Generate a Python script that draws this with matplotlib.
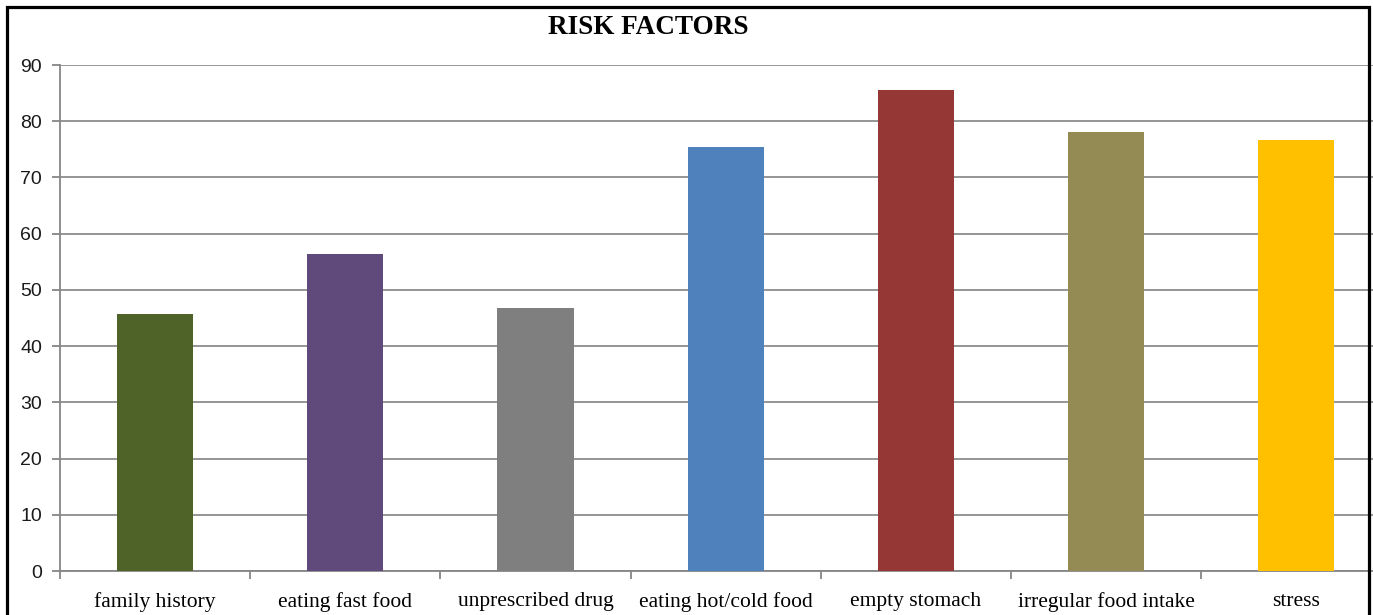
#import dependencies
import matplotlib.pyplot as plt
from matplotlib.patches import Rectangle
import numpy as np

#risk factor data (% of respondents)
factors = ['family history', 'eating fast food', 'unprescribed drug', 'eating hot/cold food',
           'empty stomach', 'irregular food intake', 'stress']
percent = [45.7, 56.4, 46.7, 75.5, 85.6, 78.0, 76.6]
bar_colors = ['#4f6228', '#604a7b', '#7f7f7f', '#4f81bd', '#953735', '#948a54', '#ffc000']
y_ticks = [0, 10, 20, 30, 40, 50, 60, 70, 80, 90]

W, H = 1373, 615
fig = plt.figure(figsize=(W / 100, H / 100), dpi=100)
ax = fig.add_axes([60 / W, 1 - 571 / H, 1 - 60 / W, (571 - 65) / H])

x = np.arange(len(factors))
ax.bar(x, percent, width=0.4, color=bar_colors, zorder=3)

#gridlines
ax.set_yticks(y_ticks)
ax.yaxis.grid(True, color='#8c8c8c', linewidth=1.3, zorder=0)
ax.set_axisbelow(True)

#spines
for s in ['top', 'right']:
    ax.spines[s].set_visible(False)
for s in ['left', 'bottom']:
    ax.spines[s].set_color('#868686')
    ax.spines[s].set_linewidth(1.3)

#tick labels
ax.tick_params(axis='y', length=6, width=1.3, color='#868686', pad=7,
               labelsize=14, labelcolor='#1a1a1a')
for lab in ax.get_yticklabels():
    lab.set_fontfamily('Liberation Sans')

ax.set_xticks(x)
ax.set_xticklabels(factors, fontfamily='Liberation Serif', fontsize=15.5)
ax.tick_params(axis='x', which='major', length=0, pad=15)
ax.set_xticks(np.arange(-0.5, len(factors), 1), minor=True)
ax.tick_params(axis='x', which='minor', length=6, width=1.3, color='#868686')

#axes limits (after ticks) - plot runs off the right edge
ax.set_ylim(0, 90)
ax.set_xlim(-0.5, -0.5 + (W - 60) / 190.2)

#title
fig.text(648 / W, 1 - 27 / H, 'RISK FACTORS', ha='center', va='center',
         fontfamily='Liberation Serif', fontweight='bold', fontsize=19.5)

#chart border
fig.patches.append(Rectangle((7 / W, -0.1), (1369 - 7) / W, 1.1 - 7 / H,
                             transform=fig.transFigure, fill=False,
                             edgecolor='black', linewidth=2.3, zorder=10))

plt.savefig('out.png', dpi=100)
